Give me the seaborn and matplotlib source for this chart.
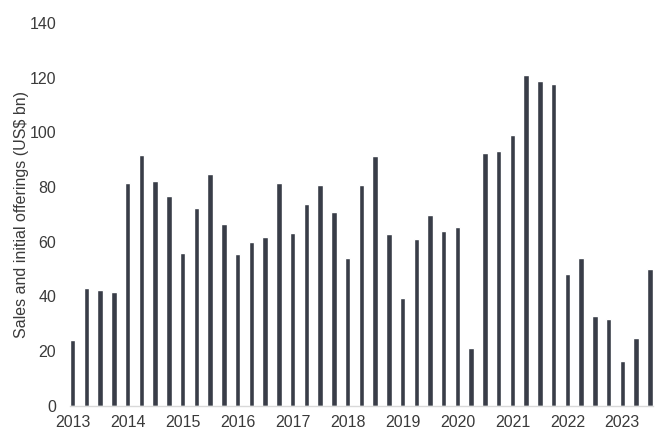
import matplotlib
matplotlib.use("Agg")
import matplotlib.pyplot as plt
import seaborn as sns
import pandas as pd

years = [str(y) for y in range(2013, 2024)]
quarters = [f"{y}Q{q}" for y in range(2013, 2024) for q in range(1, 5)][:43]
values = [24.0, 43.1, 42.4, 41.6, 81.6, 91.9, 82.4, 76.9, 56.0, 72.5, 84.9, 66.5,
          55.6, 60.0, 61.8, 81.5, 63.3, 73.9, 80.6, 70.9, 54.1, 80.6, 91.5, 62.9,
          39.4, 61.1, 69.9, 64.0, 65.5, 21.1, 92.6, 93.4, 99.2, 120.9, 118.7, 117.9,
          48.2, 54.0, 32.8, 31.7, 16.3, 24.8, 50.1]
ylabel = "Sales and initial offerings (US$ bn)"

sns.set_theme(style="white")
plt.rcParams["font.family"] = ["Liberation Sans", "DejaVu Sans"]

df = pd.DataFrame({"quarter": quarters, "value": values})

fig, ax = plt.subplots(figsize=(6.62, 4.37), dpi=100)
fig.subplots_adjust(left=70/662, right=653/662, bottom=31.5/437, top=1-23.3/437)

sns.barplot(data=df, x="quarter", y="value", color="#393d48", saturation=1,
            width=0.4, ax=ax)

ax.set_xlim(-0.2, len(values) - 1 + 0.23)
ax.set_ylim(0, 140)
ax.set_yticks(range(0, 141, 20))
ax.set_xticks(range(0, len(values), 4))
ax.set_xticklabels(years)
ax.tick_params(axis="both", length=0, labelsize=11.5, colors="#3a3a3a")
ax.tick_params(axis="y", pad=10)
ax.tick_params(axis="x", pad=7)
ax.set_xlabel("")
ax.set_ylabel(ylabel, fontsize=11.5, color="#3a3a3a")
ax.yaxis.set_label_coords(-0.071, 0.5)
for s in ["top", "right", "left"]:
    ax.spines[s].set_visible(False)
ax.spines["bottom"].set_color("#d9d9d9")
ax.spines["bottom"].set_linewidth(1)
ax.grid(False)

fig.savefig("out.png", dpi=100)
